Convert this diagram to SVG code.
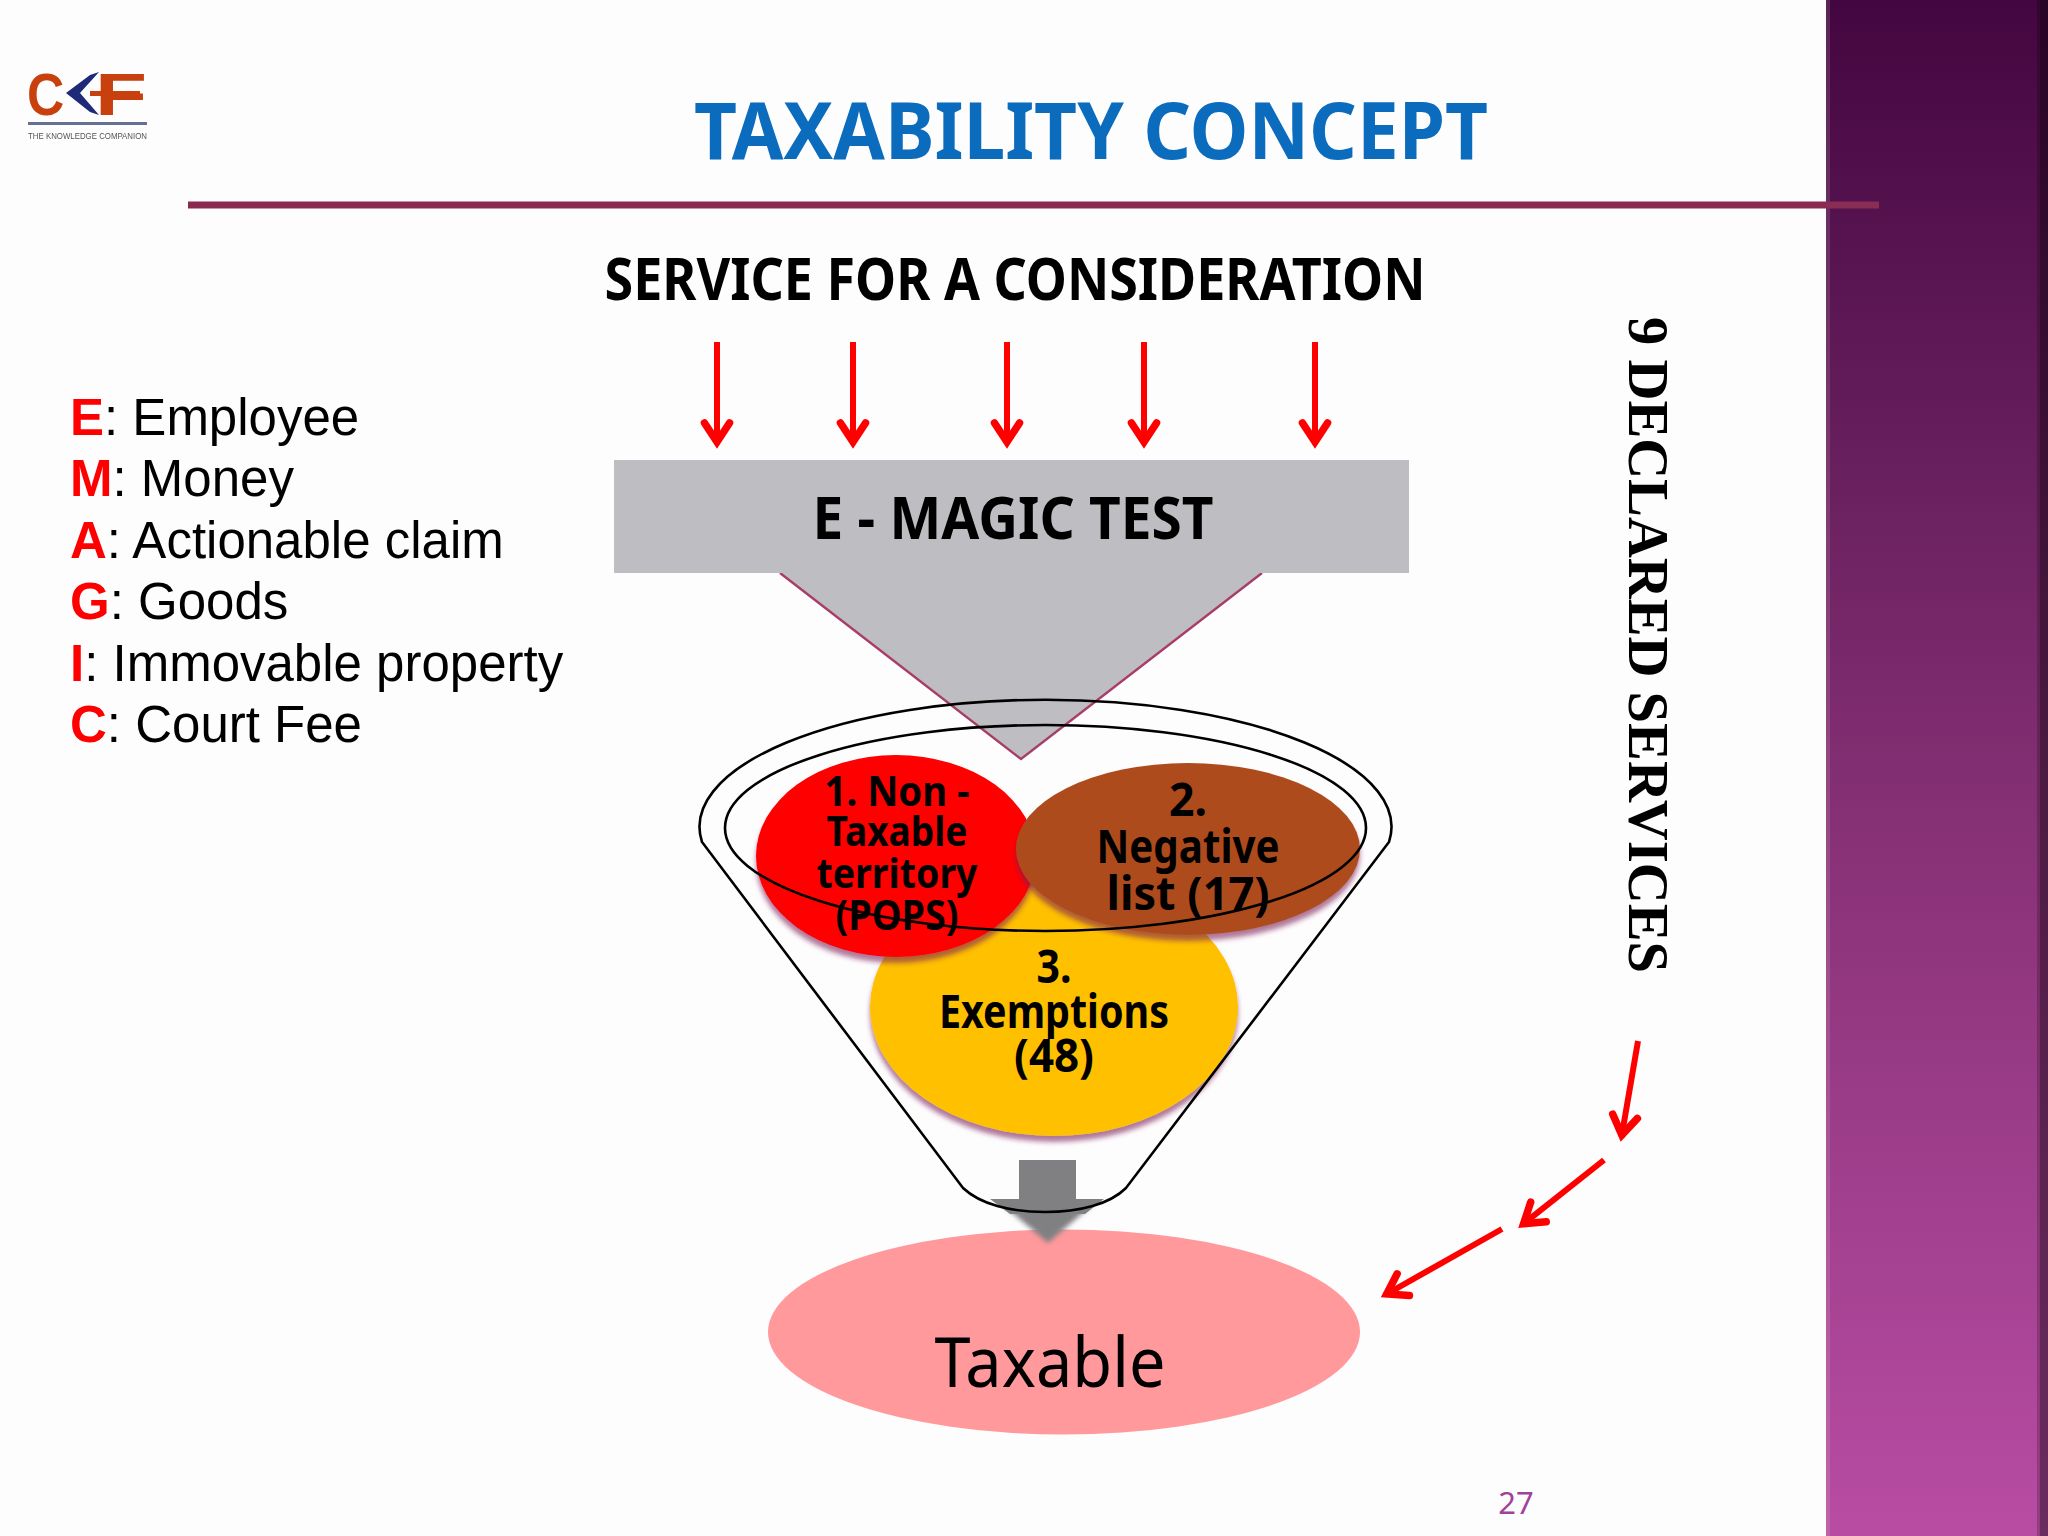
<svg xmlns="http://www.w3.org/2000/svg" width="2048" height="1536" viewBox="0 0 2048 1536">
<style>
.h{font-family:"Noto Sans","DejaVu Sans",sans-serif;font-weight:700;fill:#000;text-anchor:middle}
.leg{font-family:"Liberation Sans",Arial,sans-serif;font-size:51px;fill:#000}
.leg tspan{fill:#f00;font-weight:700}
.arr{fill:none;stroke:#f00;stroke-width:6;marker-end:url(#a)}
.fun{fill:none;stroke:#000;stroke-width:2.6}
</style>
<defs>
<linearGradient id="band" x1="0" y1="0" x2="0" y2="1"><stop offset="0" stop-color="#440640"/><stop offset=".25" stop-color="#611b58"/><stop offset=".5" stop-color="#822e72"/><stop offset=".75" stop-color="#9e3e8b"/><stop offset="1" stop-color="#b84ca3"/></linearGradient>
<marker id="a" markerUnits="userSpaceOnUse" markerWidth="48" markerHeight="48" refX="-6" refY="0" viewBox="-36 -24 48 48" orient="auto" overflow="visible"><path d="M-27,-12.500 L-8,0 L-27,12.500" fill="none" stroke="#f00" stroke-width="7.500" stroke-linecap="round" stroke-linejoin="miter" stroke-miterlimit="8"/></marker>
<filter id="sh" x="-10%" y="-10%" width="120%" height="125%"><feDropShadow dx="0" dy="6" stdDeviation="2.500" flood-color="#7a1f55" flood-opacity=".6"/></filter>
<filter id="bl" x="-20%" y="-20%" width="140%" height="140%"><feGaussianBlur stdDeviation="2.500"/></filter>
<filter id="lg" x="-5%" y="-5%" width="110%" height="110%"><feGaussianBlur stdDeviation=".6"/></filter>
</defs>
<rect width="2048" height="1536" fill="#fefdfe"/>
<g id="side-band"><rect x="1826" width="222" height="1536" fill="url(#band)"/><rect x="1826" width="4" height="1536" fill="#fff" opacity=".12"/><rect x="2040" width="8" height="1536" fill="#000" opacity=".42"/><rect x="2037" width="3" height="1536" fill="#000" opacity=".2"/></g>
<g id="logo" filter="url(#lg)">
<text x="27" y="115" transform="translate(27 115) scale(.86 1) translate(-27 -115)" font-family="Liberation Sans,sans-serif" font-weight="700" font-size="60" fill="#c8410f">C</text>
<polygon points="99,72 80,93 99,115 90,112 66,93 90,75" fill="#1d2a78"/>
<text x="95" y="115" transform="translate(95 115) scale(1.42 1) translate(-95 -115)" font-family="Liberation Sans,sans-serif" font-weight="700" font-size="60" fill="#c8410f">F</text>
<rect x="90" y="91" width="50" height="5" fill="#c8410f"/>
<rect x="28" y="122" width="119" height="3" fill="#667095"/>
<text x="28" y="139" font-family="Liberation Sans,sans-serif" font-size="9" fill="#555" textLength="119" lengthAdjust="spacingAndGlyphs">THE KNOWLEDGE COMPANION</text>
</g>
<g id="title"><text class="h" x="1091" y="159" font-size="78" style="fill:#0b6cbd" textLength="794" lengthAdjust="spacingAndGlyphs">TAXABILITY CONCEPT</text></g>
<rect id="title-rule" x="188" y="201.500" width="1638" height="7" fill="#8b2a50"/>
<rect x="1826" y="201.500" width="53" height="7" fill="#8a2d55"/>
<g id="service"><text class="h" x="1015" y="300" font-size="60" textLength="821" lengthAdjust="spacingAndGlyphs">SERVICE FOR A CONSIDERATION</text></g>
<g id="legend">
<text class="leg" x="70" y="435"><tspan>E</tspan>: Employee</text>
<text class="leg" x="70" y="496"><tspan>M</tspan>: Money</text>
<text class="leg" x="70" y="558"><tspan>A</tspan>: Actionable claim</text>
<text class="leg" x="70" y="619"><tspan>G</tspan>: Goods</text>
<text class="leg" x="70" y="681"><tspan>I</tspan>: Immovable property</text>
<text class="leg" x="70" y="742"><tspan>C</tspan>: Court Fee</text>
</g>
<g id="e-magic-test">
<polygon points="780,573 1262,573 1021,759" fill="#bebdc1"/>
<path d="M780,573 L1021,759 L1262,573" fill="none" stroke="#a83e68" stroke-width="2.400"/>
<rect x="614" y="460" width="795" height="113" fill="#bebdc1"/>
<text class="h" x="1013" y="539" font-size="60" textLength="401" lengthAdjust="spacingAndGlyphs">E - MAGIC TEST</text>
</g>
<g id="taxable"><ellipse cx="1064" cy="1332" rx="296" ry="102.500" fill="#ff999c"/><text x="1050" y="1387" font-family="Noto Sans,sans-serif" font-size="70" text-anchor="middle" textLength="231" lengthAdjust="spacingAndGlyphs">Taxable</text></g>
<g id="funnel-arrow"><path d="M1003,1205H1092L1048,1243Z" fill="#808083" filter="url(#bl)"/><path d="M1019,1160H1076V1199H1104L1085,1214H1010L990,1199H1019Z" fill="#808083"/></g>
<g id="exemptions"><ellipse cx="1054" cy="1007" rx="184" ry="129" fill="#ffc000" filter="url(#sh)"/><text class="h" x="1054" y="983" font-size="46" textLength="35" lengthAdjust="spacingAndGlyphs">3.</text><text class="h" x="1054" y="1028" font-size="46" textLength="230" lengthAdjust="spacingAndGlyphs">Exemptions</text><text class="h" x="1054" y="1072" font-size="46" textLength="80" lengthAdjust="spacingAndGlyphs">(48)</text></g>
<g id="non-taxable"><ellipse cx="896" cy="856" rx="140" ry="101" fill="#f00" filter="url(#sh)"/><text class="h" x="897" y="806" font-size="42" textLength="145" lengthAdjust="spacingAndGlyphs">1. Non -</text><text class="h" x="897" y="846" font-size="42" textLength="141" lengthAdjust="spacingAndGlyphs">Taxable</text><text class="h" x="897" y="888" font-size="42" textLength="161" lengthAdjust="spacingAndGlyphs">territory</text><text class="h" x="897" y="930" font-size="42" textLength="123" lengthAdjust="spacingAndGlyphs">(POPS)</text></g>
<g id="negative-list"><ellipse cx="1188" cy="849" rx="172" ry="86" fill="#ae4c1c" filter="url(#sh)"/><text class="h" x="1188" y="816" font-size="47" textLength="38" lengthAdjust="spacingAndGlyphs">2.</text><text class="h" x="1188" y="863" font-size="47" textLength="183" lengthAdjust="spacingAndGlyphs">Negative</text><text class="h" x="1188" y="910" font-size="47" textLength="163" lengthAdjust="spacingAndGlyphs">list (17)</text></g>
<g id="funnel">
<ellipse class="fun" cx="1045.500" cy="828" rx="320.500" ry="103"/>
<path class="fun" d="M702,842 A346,127 0 1 1 1389,842 L1126,1188 C1110,1204 1080,1212 1045,1212 C1010,1212 980,1204 963,1188 Z"/>
</g>
<g id="connectors">
<path class="arr" d="M717,342V444"/><path class="arr" d="M853,342V444"/><path class="arr" d="M1007,342V444"/><path class="arr" d="M1144,342V444"/><path class="arr" d="M1315,342V444"/>
<path class="arr" d="M1638,1041L1621.500,1137"/><path class="arr" d="M1604,1160L1522,1225"/><path class="arr" d="M1502,1229L1385,1295"/>
</g>
<g id="declared"><text transform="translate(1629 317) rotate(90)" font-family="Liberation Serif,serif" font-weight="700" font-size="57" textLength="656" lengthAdjust="spacingAndGlyphs">9 DECLARED SERVICES</text></g>
<g id="page"><text x="1516" y="1514" font-family="Noto Sans,sans-serif" font-size="31" fill="#a0429a" text-anchor="middle">27</text></g>
</svg>
